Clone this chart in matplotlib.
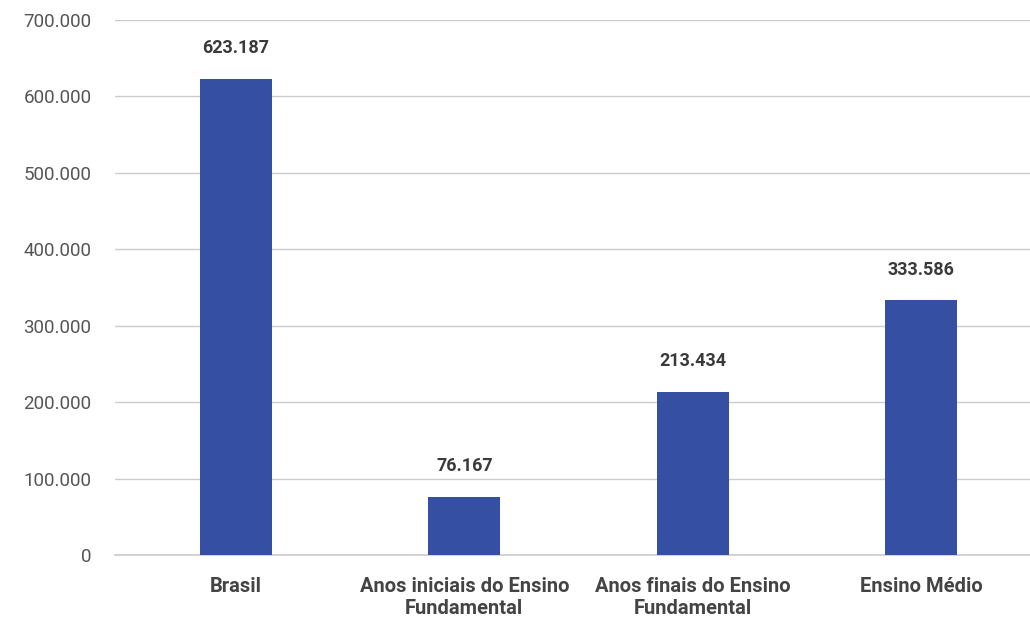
import matplotlib
matplotlib.use('Agg')
import matplotlib.pyplot as plt
from matplotlib.ticker import FuncFormatter

plt.rcParams['font.family'] = ['Roboto', 'DejaVu Sans']

categories = ['Brasil', 'Anos iniciais do Ensino\nFundamental',
              'Anos finais do Ensino\nFundamental', 'Ensino Médio']
values = [623187, 76167, 213434, 333586]
yticks = [0, 100000, 200000, 300000, 400000, 500000, 600000, 700000]


def fmt_br(v, pos=None):
    return f'{int(v):,}'.replace(',', '.')


fig = plt.figure(figsize=(10.30, 6.19), dpi=100)
ax = fig.add_axes([0.1117, 0.1034, 0.8883, 0.8643])

x = range(len(categories))
bars = ax.bar(x, values, width=0.315, color='#3550a3', zorder=3)

for b, v in zip(bars, values):
    ax.annotate(fmt_br(v), (b.get_x() + b.get_width() / 2, v),
                xytext=(0, 15.5), textcoords='offset points',
                ha='center', va='bottom', fontsize=13,
                fontweight='bold', color='#3a3a3a')

ax.set_xlim(-0.53, 3.478)
ax.set_ylim(0, 700000)
ax.set_yticks(yticks)
ax.yaxis.set_major_formatter(FuncFormatter(fmt_br))
ax.set_xticks(list(x))
ax.set_xticklabels(categories, fontsize=14.5, fontweight='bold',
                   color='#444444', linespacing=1.25)
ax.tick_params(axis='y', length=0, pad=17, labelsize=13.5, labelcolor='#555555')
ax.tick_params(axis='x', length=0, pad=15.5)

ax.grid(axis='y', color='#cccccc', linewidth=1, zorder=0)
ax.axhline(0, color='#cccccc', linewidth=1.2, zorder=2, clip_on=False)
for s in ax.spines.values():
    s.set_visible(False)

fig.savefig('out.png', dpi=100)
